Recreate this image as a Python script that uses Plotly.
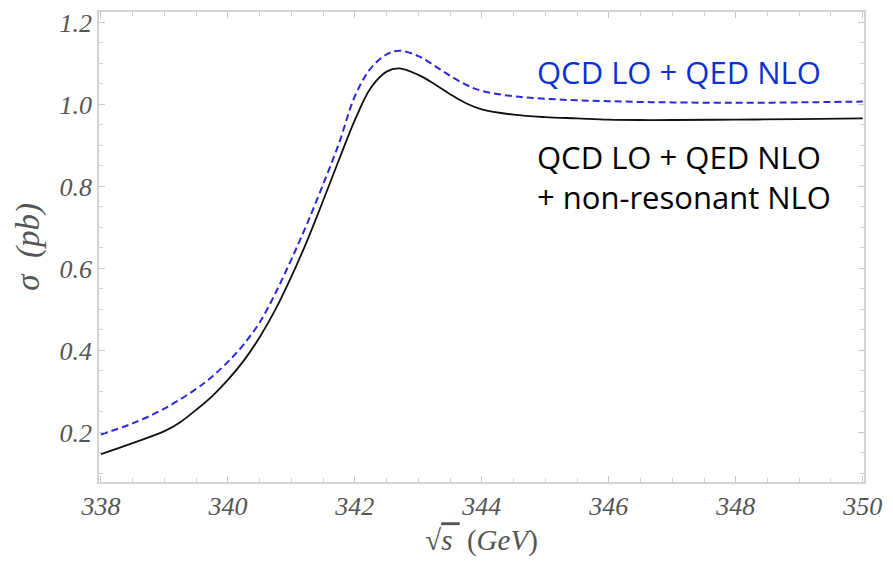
import plotly.graph_objects as go

x_black = [338.0, 338.5, 339.0, 339.25, 339.5, 339.75, 340.0, 340.25, 340.5, 340.75, 341.0, 341.25, 341.5,
           341.75, 342.0, 342.25, 342.5, 342.7, 343.0, 343.25, 343.5, 343.75, 344.0, 344.5,
           345.0, 345.5, 346.0, 346.5, 347.0, 348.0, 349.0, 350.0]
y_black = [0.147, 0.174, 0.203, 0.225, 0.255, 0.288, 0.328, 0.375, 0.432, 0.50, 0.58, 0.668, 0.765,
           0.865, 0.962, 1.04, 1.08, 1.088, 1.072, 1.05, 1.025, 1.003, 0.988, 0.975,
           0.969, 0.966, 0.963, 0.962, 0.962, 0.963, 0.964, 0.966]

x_blue = [338.0, 338.5, 339.0, 339.5, 339.75, 340.0, 340.25, 340.5, 340.75, 341.0, 341.25, 341.5,
          341.75, 342.0, 342.25, 342.5, 342.7, 343.0, 343.25, 343.5, 343.75, 344.0, 344.5,
          345.0, 345.5, 346.0, 346.5, 347.0, 348.0, 349.0, 350.0]
y_blue = [0.195, 0.222, 0.258, 0.306, 0.336, 0.372, 0.415, 0.468, 0.54, 0.622, 0.71, 0.805,
          0.905, 1.02, 1.088, 1.122, 1.131, 1.118, 1.095, 1.07, 1.048, 1.033, 1.02,
          1.014, 1.01, 1.008, 1.006, 1.005, 1.004, 1.005, 1.007]

label_blue = "QCD LO + QED NLO"
label_black = "QCD LO + QED NLO<br>+ non-resonant NLO"

W, H = 893, 564
ml, mr, mt, mb = 99, 29, 9, 82
pw, ph = W - ml - mr, H - mt - mb


def px(xp):
    return (xp - ml) / pw


def py(yp):
    return 1 - (yp - mt) / ph


fig = go.Figure()
fig.add_trace(go.Scatter(x=x_blue, y=y_blue, mode="lines",
                         line=dict(color="#2a2ad8", width=2, dash="7px,4px", shape="spline", smoothing=1),
                         showlegend=False))
fig.add_trace(go.Scatter(x=x_black, y=y_black, mode="lines",
                         line=dict(color="#111111", width=1.8, shape="spline", smoothing=1),
                         showlegend=False))

fig.add_annotation(x=px(535), y=py(69), xref="paper", yref="paper", text=label_blue, showarrow=False,
                   xanchor="left", yanchor="middle",
                   font=dict(family="Open Sans", size=31, color="#0a32d0"))
fig.add_annotation(x=px(535), y=py(175), xref="paper", yref="paper", text=label_black, showarrow=False,
                   xanchor="left", yanchor="middle", align="left",
                   font=dict(family="Open Sans", size=31, color="#000000"))

tickfont = dict(family="Liberation Serif", size=26, color="#555555", style="italic")
fig.update_layout(
    width=W, height=H,
    margin=dict(l=ml, r=mr, t=mt, b=mb),
    paper_bgcolor="white", plot_bgcolor="white",
    xaxis=dict(range=[337.97, 350.02], tickvals=[338, 340, 342, 344, 346, 348, 350],
               showgrid=False, zeroline=False, showline=True, linecolor="#d4d4d4", linewidth=1.5,
               mirror="allticks", ticks="inside", ticklen=6, tickcolor="#c8c8c8",
               minor=dict(ticks="inside", dtick=0.5, tick0=338, ticklen=4, tickcolor="#d0d0d0"),
               tickfont=tickfont, ticklabeloverflow="allow",
               title=dict(text="√<i><span style='text-decoration:overline'>s </span></i> (<i>GeV</i>)",
                          standoff=10,
                          font=dict(family="Liberation Serif", size=29, color="#555555"))),
    yaxis=dict(range=[0.079, 1.2255], tickvals=[0.2, 0.4, 0.6, 0.8, 1.0, 1.2],
               ticktext=["0.2", "0.4", "0.6", "0.8", "1.0", "1.2"],
               showgrid=False, zeroline=False, showline=True, linecolor="#d4d4d4", linewidth=1.5,
               mirror="allticks", ticks="inside", ticklen=6, tickcolor="#c8c8c8",
               minor=dict(ticks="inside", dtick=0.05, tick0=0.0, ticklen=4, tickcolor="#d0d0d0"),
               tickfont=tickfont, ticklabeloverflow="allow",
               title=dict(text="<i>σ  (pb)</i>", standoff=10,
                          font=dict(family="Liberation Serif", size=33, color="#555555"))),
)

fig.write_html("out.html")
